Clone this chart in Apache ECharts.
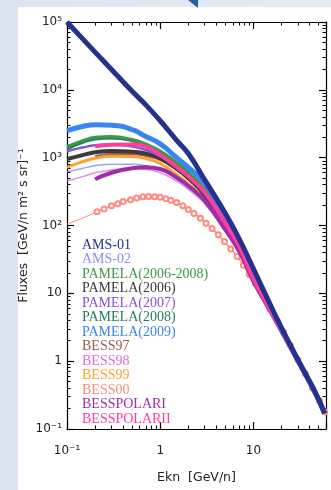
<!DOCTYPE html>
<html>
<head>
<meta charset="utf-8">
<script src="https://cdn.jsdelivr.net/npm/echarts@6/dist/echarts.min.js"></script>
<style>
  html, body { margin: 0; padding: 0; width: 331px; height: 490px; overflow: hidden;
    background: linear-gradient(90deg, #dbe4f0 0%, #e6ecf5 100%); }
  #panel { position: absolute; left: 18px; top: 7px; width: 313px; height: 483px; background: #ffffff; }
  #arrow { position: absolute; left: 188px; top: 0px; width: 0; height: 0;
    border-left: 10px solid transparent; border-right: 0px solid transparent; border-top: 8px solid #2f5f9e; }
  #chart, #labels { position: absolute; left: 0; top: 0; width: 331px; height: 490px; }
  #labels { pointer-events: none; }
</style>
</head>
<body>
<div id="panel"></div>
<div id="arrow"></div>
<div id="chart"></div>
<div id="labels"></div>
<script>
// ---- data ----
const seriesNames = ['AMS-01', 'AMS-02', 'PAMELA(2006-2008)', 'PAMELA(2006)', 'PAMELA(2007)',
  'PAMELA(2008)', 'PAMELA(2009)', 'BESS97', 'BESS98', 'BESS99', 'BESS00', 'BESSPOLARI', 'BESSPOLARII'];
const seriesColors = ['#23328f', '#8c8cf0', '#3c9a45', '#3a3a3a', '#8a52d8', '#23805a', '#3a86f0',
  '#9c5a52', '#d86ee0', '#ffa030', '#ff8a80', '#9a2fa8', '#ff3d9c'];

const energyGrid = [0.1, 0.15, 0.2, 0.3, 0.5, 0.7, 1, 1.5, 2, 3, 5, 7, 10, 15, 20, 30, 45, 58];

const fluxAMS01     = [100000, 55000, 36000, 20000, 9500, 6000, 3500, 1800, 1150, 470, 150, 64, 23, 7.0, 3.1, 1.05, 0.37, 0.17];
const fluxAMS02     = [620, 700, 760, 800, 800, 760, 660, 480, 360, 220, 86, 43, 15.2, 5.7, 2.8, 1.0, 0.36, 0.17];
const fluxPAM0608   = [1450, 1800, 2000, 2050, 1850, 1600, 1250, 850, 610, 340, 115, 52, 16.5, 5.9, 2.85, 1.0, 0.36, 0.17];
const fluxPAM2006   = [950, 1100, 1200, 1250, 1220, 1150, 980, 690, 500, 285, 100, 47, 15.8, 5.8, 2.8, 1.0, 0.36, 0.17];
const fluxPAM2007   = [1240, 1420, 1520, 1560, 1460, 1300, 1050, 720, 520, 295, 102, 48, 16, 5.8, 2.8, 1.0, 0.36, 0.17];
const fluxPAM2008   = [1350, 1700, 1880, 1950, 1780, 1540, 1200, 820, 590, 330, 112, 51, 16.3, 5.9, 2.8, 1.0, 0.36, 0.17];
const fluxPAM2009   = [2500, 2900, 3050, 3000, 2600, 2050, 1600, 1000, 720, 420, 140, 62, 18, 6.2, 2.9, 1.02, 0.36, 0.17];
const fluxBESS97    = [null, null, 1050, 1130, 1120, 1060, 920, 660, 480, 275, 98, 46, 15.6, 5.8, 2.8, 1.0, 0.36, 0.17];
const fluxBESS98    = [450, 530, 600, 660, 690, 670, 600, 450, 340, 210, 82, 42, 15, 5.6, 2.8, 1.0, 0.36, 0.17];
const fluxBESS99    = [720, 880, 980, 1050, 1040, 970, 820, 560, 410, 245, 92, 45, 15.5, 5.7, 2.8, 1.0, 0.36, 0.17];
const fluxPOLARI    = [null, null, 480, 600, 700, 720, 680, 510, 385, 232, 86, 42, 15, 5.6, 2.75, 1.0, 0.36, 0.17];
const fluxPOLARII   = [null, null, 1470, 1550, 1570, 1450, 1100, 730, 530, 310, 108, 50, 16.5, 5.9, 2.85, 1.0, 0.36, 0.17];

// BESS00: thin model line at low energy, then measured points
const energyBESS00Model = [0.1, 0.15, 0.21];
const fluxBESS00Model   = [105, 130, 160];
const energyBESS00 = [0.21, 0.25, 0.3, 0.35, 0.4, 0.48, 0.56, 0.65, 0.75, 0.87, 1.0, 1.15, 1.3, 1.5, 1.75, 2.0, 2.3,
  2.7, 3.1, 3.6, 4.2, 4.9, 5.7, 6.7, 7.8, 9, 10.5, 12.5, 15, 18, 21, 25, 30, 36, 43, 51, 58];
const fluxBESS00   = [160, 175, 195, 210, 225, 240, 255, 265, 268, 266, 260, 248, 235, 218, 195, 172, 150,
  128, 108, 90, 73, 58, 45, 35, 26, 19, 14, 9.5, 6, 3.9, 2.7, 1.7, 1.05, 0.65, 0.4, 0.26, 0.18];

// tick label texts by decade exponent
const tickLabels = { '-1': '10⁻¹', '0': '1', '1': '10', '2': '10²', '3': '10³', '4': '10⁴', '5': '10⁵' };

// ---- helpers ----
function pairs(xs, ys) {
  const out = [];
  for (let i = 0; i < xs.length; i++) if (ys[i] != null) out.push([xs[i], ys[i]]);
  return out;
}
function powLabel(v) {
  const e = Math.round(Math.log10(Number(v)));
  return tickLabels[String(e)] || '';
}

function lineSeries(idx, flux, width, z, opacity) {
  return {
    name: seriesNames[idx], type: 'line', smooth: true, showSymbol: false, z: z,
    data: pairs(energyGrid, flux),
    lineStyle: { color: seriesColors[idx], width: width, opacity: opacity == null ? 1 : opacity },
    itemStyle: { color: seriesColors[idx] }
  };
}

const series = [
  {
    name: 'BESS00', type: 'line', smooth: true, showSymbol: false, z: 1,
    data: pairs(energyBESS00Model, fluxBESS00Model),
    lineStyle: { color: seriesColors[10], width: 1 }, itemStyle: { color: seriesColors[10] }
  },
  {
    name: 'BESS00', type: 'line', smooth: true, symbol: 'emptyCircle', symbolSize: 5, z: 2,
    data: pairs(energyBESS00, fluxBESS00),
    lineStyle: { color: seriesColors[10], width: 1.5 },
    itemStyle: { color: seriesColors[10], borderWidth: 1.5 }
  },
  lineSeries(8, fluxBESS98, 1.5, 3, 0.8),
  lineSeries(1, fluxAMS02, 1.5, 3, 0.8),
  lineSeries(7, fluxBESS97, 2, 4),
  lineSeries(9, fluxBESS99, 3, 5),
  lineSeries(3, fluxPAM2006, 4, 6),
  lineSeries(4, fluxPAM2007, 2.5, 7),
  lineSeries(11, fluxPOLARI, 4, 8),
  lineSeries(5, fluxPAM2008, 3, 9),
  lineSeries(2, fluxPAM0608, 3, 10),
  lineSeries(6, fluxPAM2009, 5, 11),
  lineSeries(12, fluxPOLARII, 4, 12),
  lineSeries(0, fluxAMS01, 5, 13)
];

const gridBox = { left: 67, top: 22, right: 5, bottom: 61, containLabel: false };

const axisCommonX = {
  type: 'log', logBase: 10, min: 0.1, max: 60,
  axisLine: { show: true, onZero: false, lineStyle: { color: '#000', width: 1.2 } },
  axisTick: { show: true, inside: true, length: 7, lineStyle: { color: '#000', width: 1.2 } },
  minorTick: { show: true, splitNumber: 9, length: 3.5, lineStyle: { color: '#000', width: 1 } },
  splitLine: { show: false }, minorSplitLine: { show: false },
  axisLabel: { show: false }
};
const axisCommonY = {
  type: 'log', logBase: 10, min: 0.1, max: 100000, splitNumber: 6,
  axisLine: { show: true, onZero: false, lineStyle: { color: '#000', width: 1.2 } },
  axisTick: { show: true, inside: true, length: 7, lineStyle: { color: '#000', width: 1.2 } },
  minorTick: { show: true, splitNumber: 9, length: 3.5, lineStyle: { color: '#000', width: 1 } },
  splitLine: { show: false }, minorSplitLine: { show: false },
  axisLabel: { show: false }
};

// main chart: frame, ticks, names, legend, series
const chart = echarts.init(document.getElementById('chart'), null, { renderer: 'canvas' });
chart.setOption({
  backgroundColor: 'transparent',
  animation: false,
  grid: gridBox,
  legend: {
    orient: 'vertical', left: 72, top: 233, itemGap: 0, itemWidth: 0, itemHeight: 0, icon: 'none',
    selectedMode: false,
    data: seriesNames.map((n, i) => ({ name: n, textStyle: { color: seriesColors[i] } })),
    textStyle: { fontFamily: 'Liberation Serif', fontSize: 14, lineHeight: 14.5 }
  },
  xAxis: [
    Object.assign({}, axisCommonX, {
      position: 'bottom',
      name: 'Ekn  [GeV/n]', nameLocation: 'middle', nameGap: 42,
      nameTextStyle: { fontFamily: 'DejaVu Sans', fontSize: 12.5, color: '#222' }
    }),
    Object.assign({}, axisCommonX, { position: 'top' })
  ],
  yAxis: [
    Object.assign({}, axisCommonY, {
      position: 'left',
      name: 'Fluxes  [GeV/n m² s sr]⁻¹', nameLocation: 'middle', nameGap: 37,
      nameTextStyle: { fontFamily: 'DejaVu Sans', fontSize: 12.5, color: '#222' }
    }),
    Object.assign({}, axisCommonY, { position: 'right' })
  ],
  series: series
});

// overlay chart with the same grid: decade tick labels only
const labelChart = echarts.init(document.getElementById('labels'), null, { renderer: 'canvas' });
labelChart.setOption({
  backgroundColor: 'transparent',
  animation: false,
  grid: gridBox,
  xAxis: {
    type: 'log', logBase: 10, min: 0.1, max: 60,
    axisLine: { show: false, onZero: false }, axisTick: { show: false }, minorTick: { show: false },
    splitLine: { show: false },
    axisLabel: { show: true, margin: 16, color: '#222', fontFamily: 'DejaVu Sans', fontSize: 12,
      formatter: powLabel, showMaxLabel: false }
  },
  yAxis: {
    type: 'log', logBase: 10, min: 0.1, max: 100000, splitNumber: 6,
    axisLine: { show: false, onZero: false }, axisTick: { show: false }, minorTick: { show: false },
    splitLine: { show: false },
    axisLabel: { show: true, margin: 5, color: '#222', fontFamily: 'DejaVu Sans', fontSize: 12,
      formatter: powLabel }
  },
  series: [{ type: 'line', data: [], silent: true }]
});
</script>
</body>
</html>
